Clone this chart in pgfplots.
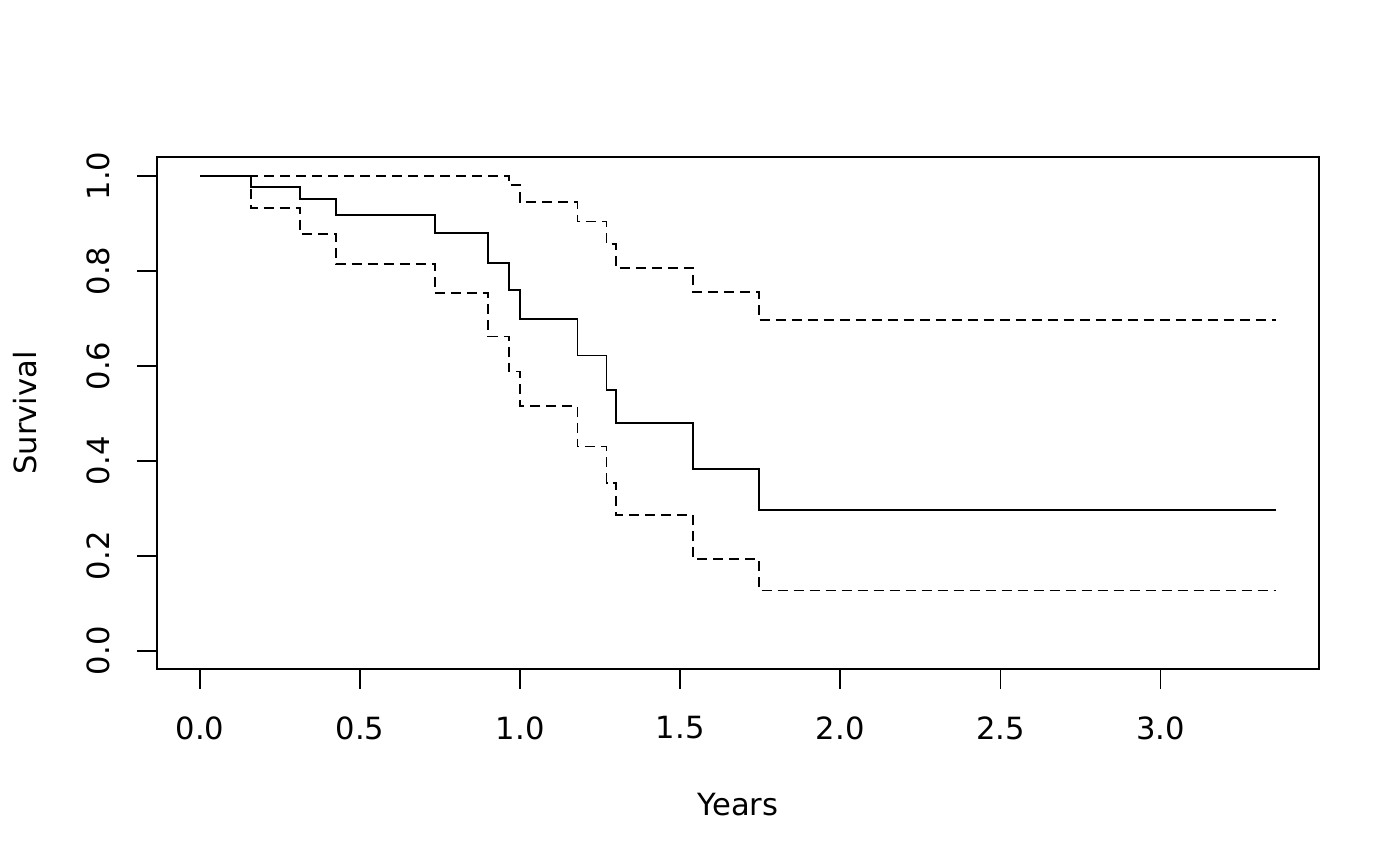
\documentclass[border=0pt]{standalone}
\usepackage{fontspec}
\setmainfont{DejaVu Sans}
\usepackage{pgfplots}
\pgfplotsset{compat=1.18}
\begin{document}
\fontsize{15.3}{18}\selectfont
\begin{tikzpicture}
\path[use as bounding box] (0,0) rectangle (700pt,433pt);
\begin{axis}[
  at={(78.5pt,98.5pt)}, anchor=south west,
  scale only axis, width=581pt, height=256pt,
  xmin=-0.1344, xmax=3.4954, ymin=-0.0385, ymax=1.04,
  axis line style={line width=0.85pt},
  xtick={0,0.5,1,1.5,2,2.5,3},
  xticklabels={0.0,0.5,1.0,1.5,2.0,2.5,3.0},
  ytick={0,0.2,0.4,0.6,0.8,1},
  yticklabels={0.0,0.2,0.4,0.6,0.8,1.0},
  tick align=outside, xtick pos=bottom, ytick pos=left,
  major tick length=10pt,
  tick style={line width=0.85pt, black},
  xticklabel shift=13.5pt, yticklabel shift=13.5pt,
  xticklabel style={inner sep=0pt, anchor=north},
  yticklabel style={inner sep=0pt, rotate=90, anchor=south},
  xlabel={Years}, ylabel={Survival},
  every axis x label/.style={at={(axis description cs:0.5,-0.2656)},anchor=center},
  every axis y label/.style={at={(axis description cs:-0.1136,0.5)},rotate=90,anchor=center},
]
\addplot[const plot, black, line width=0.9pt] coordinates {
(0,1) (0.158,0.977) (0.3125,0.952) (0.424,0.918) (0.733,0.880) (0.900,0.817)
(0.966,0.760) (0.999,0.698) (1.179,0.622) (1.270,0.549) (1.299,0.479)
(1.540,0.383) (1.745,0.297) (3.361,0.297)};
\addplot[const plot, black, line width=0.9pt, dash pattern=on 5pt off 3pt] coordinates {
(0,1) (0.966,0.981) (0.999,0.945) (1.179,0.904) (1.270,0.856) (1.299,0.806)
(1.540,0.756) (1.745,0.696) (3.361,0.696)};
\addplot[const plot, black, line width=0.9pt, dash pattern=on 5pt off 3pt] coordinates {
(0,1) (0.158,0.932) (0.3125,0.878) (0.424,0.814) (0.733,0.753) (0.900,0.662)
(0.966,0.588) (0.999,0.516) (1.179,0.430) (1.270,0.353) (1.299,0.286)
(1.540,0.194) (1.745,0.127) (3.361,0.127)};
\end{axis}
\end{tikzpicture}
\end{document}
